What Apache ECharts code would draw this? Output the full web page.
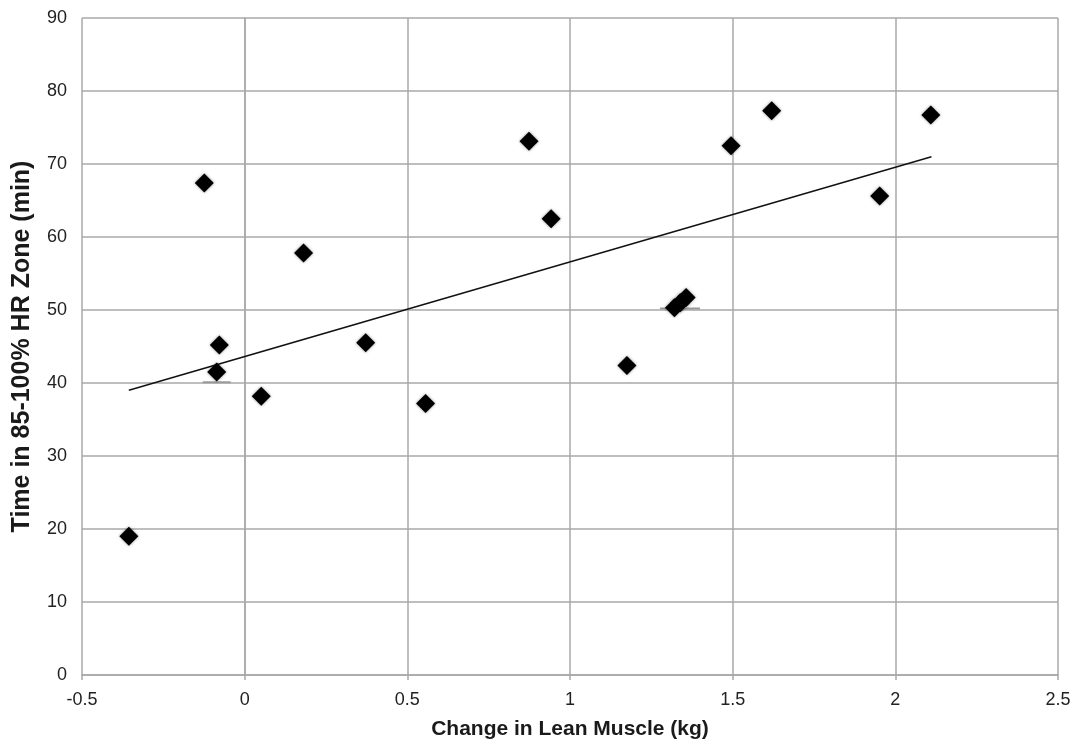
<!DOCTYPE html>
<html>
<head>
<meta charset="utf-8">
<script src="https://cdn.jsdelivr.net/npm/echarts@6/dist/echarts.min.js"></script>
<style>
  html, body { margin: 0; padding: 0; background: #fff; }
  #chart { width: 1078px; height: 745px; }
</style>
</head>
<body>
<div id="chart"></div>
<script>
// change in lean muscle (kg) vs time in 85-100% HR zone (min)
const leanChange = [-0.356, -0.124, -0.078, -0.086, 0.051, 0.181, 0.372, 0.556, 0.874, 0.942,
  1.175, 1.321, 1.339, 1.357, 1.495, 1.620, 1.952, 2.109];
const hrMinutes = [19.0, 67.4, 45.2, 41.5, 38.2, 57.8, 45.5, 37.2, 73.1, 62.5,
  42.4, 50.3, 51.0, 51.7, 72.5, 77.3, 65.6, 76.7];

// linear trendline end points
const trendX = [-0.356, 2.111];
const trendY = [39.0, 71.0];

// small grey dashes under two of the points
const dashX = [-0.086, 1.338];
const dashY = [40.1, 50.2];
const dashW = [28, 40];

const xTicks = { min: -0.5, max: 2.5, step: 0.5 };
const yTicks = { min: 0, max: 90, step: 10 };

const chart = echarts.init(document.getElementById("chart"));
const gridColor = "#a8a8a8";
const family = "Liberation Sans, Arial, sans-serif";
const labelFont = { fontFamily: family, fontSize: 18, color: "#222" };

chart.setOption({
  animation: false,
  backgroundColor: "#fff",
  grid: { left: 82, top: 18, right: 20, bottom: 69 },
  xAxis: {
    type: "value",
    min: xTicks.min,
    max: xTicks.max,
    interval: xTicks.step,
    name: "Change in Lean Muscle (kg)",
    nameLocation: "middle",
    nameGap: 44,
    nameTextStyle: { fontFamily: family, fontSize: 21, fontWeight: "bold", color: "#1a1a1a" },
    axisLine: { lineStyle: { color: gridColor, width: 1.5 } },
    axisTick: { show: true, length: 5, lineStyle: { color: gridColor, width: 1.5 } },
    axisLabel: Object.assign({ margin: 16 }, labelFont),
    splitLine: { lineStyle: { color: gridColor, width: 1.5 } },
  },
  yAxis: {
    type: "value",
    min: yTicks.min,
    max: yTicks.max,
    interval: yTicks.step,
    name: "Time in 85-100% HR Zone (min)",
    nameLocation: "middle",
    nameRotate: 90,
    nameGap: 47,
    nameTextStyle: { fontFamily: family, fontSize: 25, fontWeight: "bold", color: "#1a1a1a" },
    axisLine: { show: true, lineStyle: { color: gridColor, width: 1.5 } },
    axisTick: { show: false },
    axisLabel: Object.assign({ margin: 15 }, labelFont),
    splitLine: { lineStyle: { color: gridColor, width: 1.5 } },
  },
  series: [
    {
      type: "scatter",
      data: dashX.map((x, i) => ({ value: [x, dashY[i]], symbolSize: [dashW[i], 2] })),
      symbol: "rect",
      itemStyle: { color: "#9a9a9a", opacity: 1 },
      silent: true,
      z: 2,
    },
    {
      type: "line",
      data: trendX.map((x, i) => [x, trendY[i]]),
      showSymbol: false,
      lineStyle: { color: "#111", width: 1.5 },
      silent: true,
      z: 3,
    },
    {
      type: "scatter",
      data: leanChange.map((x, i) => [x, hrMinutes[i]]),
      symbol: "diamond",
      symbolSize: 19,
      itemStyle: { color: "#000", opacity: 1, shadowBlur: 3, shadowColor: "rgba(0,0,0,0.45)" },
      z: 4,
    },
  ],
});
</script>
</body>
</html>
